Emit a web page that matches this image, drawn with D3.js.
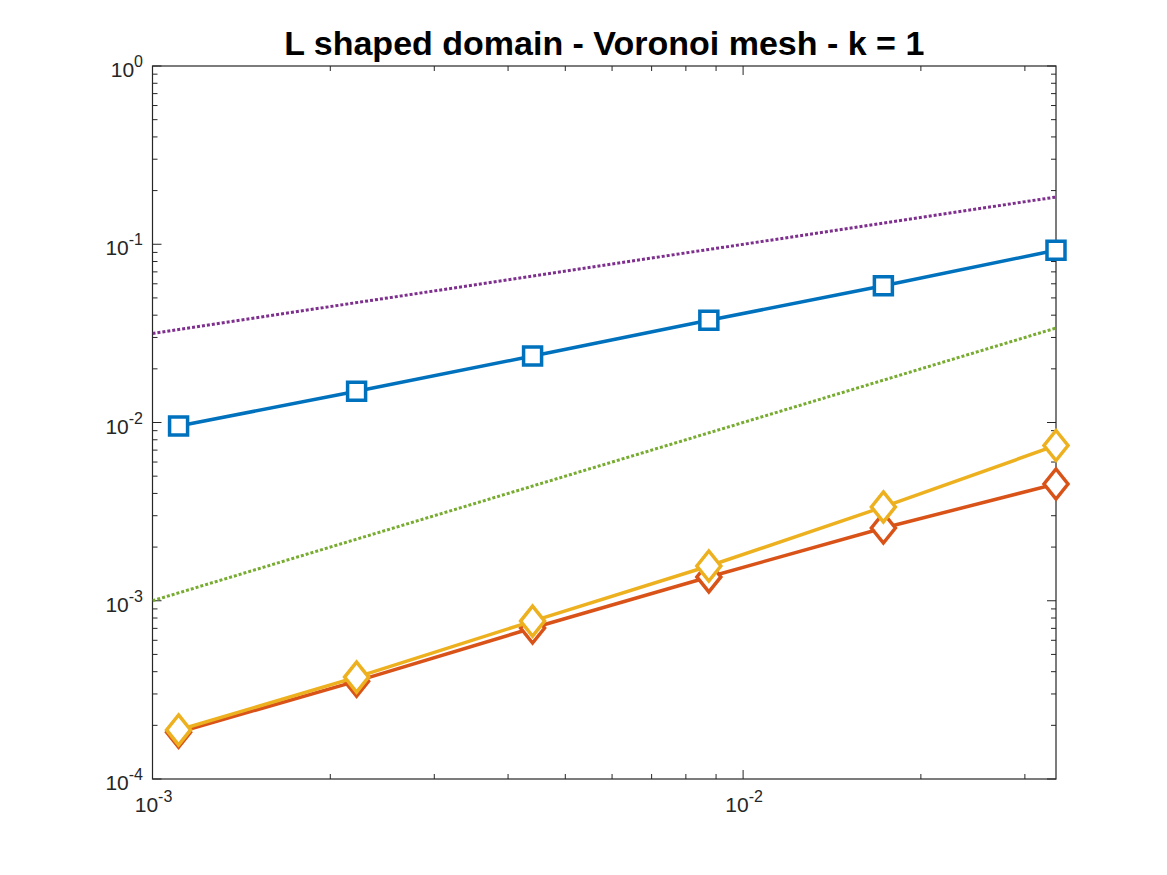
<!DOCTYPE html>
<html>
<head>
<meta charset="utf-8">
<script src="https://cdn.jsdelivr.net/npm/d3@7"></script>
<style>
  html, body { margin: 0; padding: 0; background: #fff; }
  svg { display: block; }
  text { font-family: "Liberation Sans", Arial, Helvetica, sans-serif; }
</style>
</head>
<body>
<svg id="chart" width="1167" height="875"></svg>
<script>
// ---- data ----
const titleText = "L shaped domain - Voronoi mesh - k = 1";
const hValues = [0.001107, 0.002216, 0.004401, 0.008750, 0.01728, 0.03387];
const errBlue = [0.00956, 0.01496, 0.0236, 0.03744, 0.05855, 0.0925];
const errOrange = [1.83e-4, 3.54e-4, 7.03e-4, 1.36e-3, 2.56e-3, 4.52e-3];
const errYellow = [1.884e-4, 3.73e-4, 7.69e-4, 1.566e-3, 3.36e-3, 7.43e-3];
const refHalfX = [0.001, 0.03387];
const refHalfY = [0.0316, 0.184];
const refOneX = [0.001, 0.03387];
const refOneY = [0.001, 0.03387];
const xDomain = [0.001, 0.03387];
const yDomain = [1e-4, 1];
const xMajorTicks = [0.001, 0.01];
const xMajorExp = ["-3", "-2"];
const yMajorTicks = [1e-4, 1e-3, 1e-2, 1e-1, 1];
const yMajorExp = ["-4", "-3", "-2", "-1", "0"];

// ---- layout ----
const svg = d3.select("#chart");
const L = 152.5, R = 1056, T = 66, B = 779;
const x = d3.scaleLog().domain(xDomain).range([L, R]);
const y = d3.scaleLog().domain(yDomain).range([B, T]);
const axisColor = "#262626";

svg.append("rect").attr("width", 1167).attr("height", 875).attr("fill", "#fff");

svg.append("defs").append("clipPath").attr("id", "clip")
  .append("rect").attr("x", L).attr("y", T).attr("width", R - L).attr("height", B - T);

// minor ticks
const xMinor = [];
for (let e = -3; e <= -2; e++) for (let m = 2; m <= 9; m++) {
  const v = m * Math.pow(10, e);
  if (v <= xDomain[1]) xMinor.push(v);
}
const yMinor = [];
for (let e = -4; e <= -1; e++) for (let m = 2; m <= 9; m++) yMinor.push(m * Math.pow(10, e));

const tickG = svg.append("g").attr("stroke", axisColor).attr("stroke-width", 1);
const majLen = 9, minLen = 5;
xMinor.forEach(v => {
  const px = x(v);
  tickG.append("line").attr("x1", px).attr("x2", px).attr("y1", B).attr("y2", B - minLen);
  tickG.append("line").attr("x1", px).attr("x2", px).attr("y1", T).attr("y2", T + minLen);
});
xMajorTicks.forEach(v => {
  const px = x(v);
  tickG.append("line").attr("x1", px).attr("x2", px).attr("y1", B).attr("y2", B - majLen);
  tickG.append("line").attr("x1", px).attr("x2", px).attr("y1", T).attr("y2", T + majLen);
});
yMinor.forEach(v => {
  const py = y(v);
  tickG.append("line").attr("x1", L).attr("x2", L + minLen).attr("y1", py).attr("y2", py);
  tickG.append("line").attr("x1", R).attr("x2", R - minLen).attr("y1", py).attr("y2", py);
});
yMajorTicks.forEach(v => {
  const py = y(v);
  tickG.append("line").attr("x1", L).attr("x2", L + majLen).attr("y1", py).attr("y2", py);
  tickG.append("line").attr("x1", R).attr("x2", R - majLen).attr("y1", py).attr("y2", py);
});

svg.append("rect").attr("x", L).attr("y", T).attr("width", R - L).attr("height", B - T)
  .attr("fill", "none").attr("stroke", axisColor).attr("stroke-width", 1.2);

// tick labels
const labG = svg.append("g").attr("fill", axisColor);
xMajorTicks.forEach((v, i) => {
  const t = labG.append("text").attr("x", x(v) + 1).attr("y", 812)
    .attr("text-anchor", "middle").attr("font-size", 21);
  t.append("tspan").text("10");
  t.append("tspan").attr("font-size", 16).attr("dy", -10).text(xMajorExp[i]);
});
yMajorTicks.forEach((v, i) => {
  const t = labG.append("text").attr("x", 143).attr("y", y(v) + 11)
    .attr("text-anchor", "end").attr("font-size", 21);
  t.append("tspan").text("10");
  t.append("tspan").attr("font-size", 16).attr("dy", -10).text(yMajorExp[i]);
});

// title
svg.append("text").attr("x", (L + R) / 2).attr("y", 55).attr("text-anchor", "middle")
  .attr("font-size", 34).attr("font-weight", "bold").attr("fill", "#000").text(titleText);

// plot
const line = d3.line().x(d => x(d[0])).y(d => y(d[1]));
const refG = svg.append("g").attr("clip-path", "url(#clip)");

function drawRef(xs, ys, color) {
  refG.append("path").datum(xs.map((v, i) => [v, ys[i]]))
    .attr("d", line).attr("fill", "none").attr("stroke", color)
    .attr("stroke-width", 3).attr("stroke-dasharray", "3,2");
}

function drawSeries(ys, color, marker) {
  const g = svg.append("g");
  const pts = hValues.map((v, i) => [v, ys[i]]);
  g.append("path").datum(pts).attr("d", line).attr("fill", "none")
    .attr("clip-path", "url(#clip)")
    .attr("stroke", color).attr("stroke-width", 3.5).attr("stroke-linejoin", "round");
  pts.forEach(p => {
    const cx = x(p[0]), cy = y(p[1]);
    let d;
    if (marker === "square") {
      const s = 9;
      d = `M${cx - s},${cy - s}H${cx + s}V${cy + s}H${cx - s}Z`;
    } else {
      const w = 12, h = 15;
      d = `M${cx},${cy - h}L${cx + w},${cy}L${cx},${cy + h}L${cx - w},${cy}Z`;
    }
    g.append("path").attr("d", d).attr("fill", "#fff").attr("stroke", color)
      .attr("stroke-width", 3.5).attr("stroke-linejoin", "miter");
  });
}
drawSeries(errBlue, "#0072BD", "square");
drawSeries(errOrange, "#D95319", "diamond");
drawSeries(errYellow, "#EDB120", "diamond");
drawRef(refHalfX, refHalfY, "#7E2F8E");
drawRef(refOneX, refOneY, "#77AC30");
</script>
</body>
</html>
